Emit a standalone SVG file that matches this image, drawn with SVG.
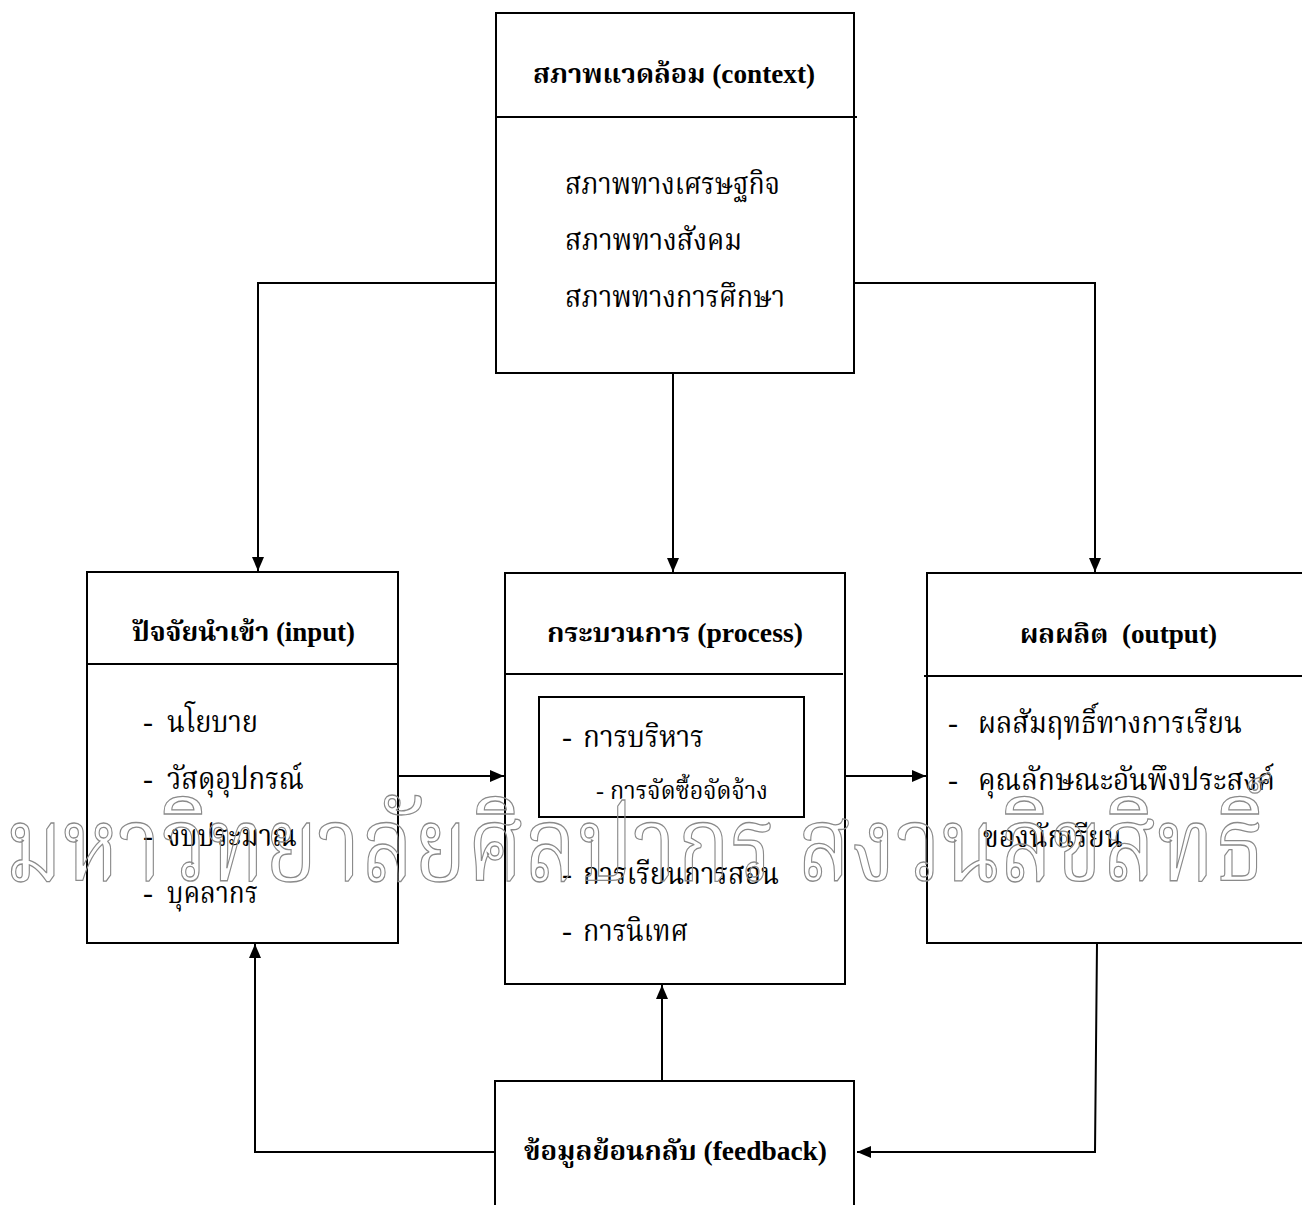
<svg xmlns="http://www.w3.org/2000/svg" width="1302" height="1205" viewBox="0 0 1302 1205">
  <style>
    .box { fill: #ffffff; stroke: #000000; stroke-width: 2; }
    .rule { stroke: #000000; stroke-width: 2; fill: none; }
    .wire { stroke: #000000; stroke-width: 2; fill: none; }
    .title { font-family: "Liberation Serif", "Norasi", "Noto Serif Thai", "Noto Sans Thai", serif; font-size: 27px; font-weight: bold; fill: #000000; }
    .item { font-family: "Liberation Serif", "Norasi", "Noto Serif Thai", "Noto Sans Thai", serif; font-size: 30px; fill: #000000; }
    .small { font-size: 24px; }
    .mark { font-family: "Norasi", "Noto Serif Thai", "Noto Sans Thai", "Liberation Serif", serif; font-size: 104px; fill: none; stroke: #8a8a8a; stroke-width: 1.3; }
  </style>
  <defs>
    <marker id="arrow" markerUnits="userSpaceOnUse" markerWidth="16" markerHeight="14" refX="14" refY="6" orient="auto">
      <path d="M0,0 L14,6 L0,12 Z" fill="#000000"/>
    </marker>
  </defs>

  <!-- connectors -->
  <g id="connectors">
    <path class="wire" d="M496,283 H258 V571" marker-end="url(#arrow)"/>
    <path class="wire" d="M854,283 H1095 V572" marker-end="url(#arrow)"/>
    <path class="wire" d="M673,368 V572" marker-end="url(#arrow)"/>
    <path class="wire" d="M398,776 H504" marker-end="url(#arrow)"/>
    <path class="wire" d="M845,776 H926" marker-end="url(#arrow)"/>
    <path class="wire" d="M1097,943 L1095,1152 H857" marker-end="url(#arrow)"/>
    <path class="wire" d="M495,1152 H255 V944" marker-end="url(#arrow)"/>
    <path class="wire" d="M662,1081 V985" marker-end="url(#arrow)"/>
  </g>

  <!-- context -->
  <g id="context">
    <rect class="box" x="496" y="13" width="358" height="360"/>
    <line class="rule" x1="496" y1="117" x2="857" y2="117"/>
    <text class="title" x="533" y="83" textLength="282" lengthAdjust="spacingAndGlyphs">สภาพแวดล้อม (context)</text>
    <text class="item" x="565" y="194" textLength="215" lengthAdjust="spacingAndGlyphs">สภาพทางเศรษฐกิจ</text>
    <text class="item" x="565" y="250" textLength="177" lengthAdjust="spacingAndGlyphs">สภาพทางสังคม</text>
    <text class="item" x="565" y="307" textLength="220" lengthAdjust="spacingAndGlyphs">สภาพทางการศึกษา</text>
  </g>

  <!-- input -->
  <g id="input">
    <rect class="box" x="87" y="572" width="311" height="371"/>
    <line class="rule" x1="87" y1="664" x2="398" y2="664"/>
    <text class="title" x="132" y="641" textLength="223" lengthAdjust="spacingAndGlyphs">ปัจจัยนำเข้า (input)</text>
    <text class="item" x="143" y="732">-</text>
    <text class="item" x="167" y="732" textLength="91" lengthAdjust="spacingAndGlyphs">นโยบาย</text>
    <text class="item" x="143" y="789">-</text>
    <text class="item" x="167" y="789" textLength="137" lengthAdjust="spacingAndGlyphs">วัสดุอุปกรณ์</text>
    <text class="item" x="143" y="846">-</text>
    <text class="item" x="167" y="846" textLength="130" lengthAdjust="spacingAndGlyphs">งบประมาณ</text>
    <text class="item" x="143" y="903">-</text>
    <text class="item" x="167" y="903" textLength="91" lengthAdjust="spacingAndGlyphs">บุคลากร</text>
  </g>

  <!-- process -->
  <g id="process">
    <rect class="box" x="505" y="573" width="340" height="411"/>
    <line class="rule" x1="505" y1="674" x2="843" y2="674"/>
    <text class="title" x="547" y="642" textLength="256" lengthAdjust="spacingAndGlyphs">กระบวนการ (process)</text>
    <rect class="box" x="539" y="697" width="265" height="120"/>
    <text class="item" x="562" y="747">-</text>
    <text class="item" x="583" y="747" textLength="121" lengthAdjust="spacingAndGlyphs">การบริหาร</text>
    <text class="item small" x="596" y="799">-</text>
    <text class="item small" x="610" y="799" textLength="158" lengthAdjust="spacingAndGlyphs">การจัดซื้อจัดจ้าง</text>
    <text class="item" x="562" y="884">-</text>
    <text class="item" x="583" y="884" textLength="196" lengthAdjust="spacingAndGlyphs">การเรียนการสอน</text>
    <text class="item" x="562" y="941">-</text>
    <text class="item" x="583" y="941" textLength="105" lengthAdjust="spacingAndGlyphs">การนิเทศ</text>
  </g>

  <!-- output -->
  <g id="output">
    <rect class="box" x="927" y="573" width="390" height="370"/>
    <line class="rule" x1="924" y1="676" x2="1302" y2="676"/>
    <text class="title" x="1020" y="643" textLength="197" lengthAdjust="spacingAndGlyphs" xml:space="preserve">ผลผลิต  (output)</text>
    <text class="item" x="948" y="733">-</text>
    <text class="item" x="978" y="733" textLength="264" lengthAdjust="spacingAndGlyphs">ผลสัมฤทธิ์ทางการเรียน</text>
    <text class="item" x="948" y="790">-</text>
    <text class="item" x="978" y="790" textLength="297" lengthAdjust="spacingAndGlyphs">คุณลักษณะอันพึงประสงค์</text>
    <text class="item" x="983" y="847" textLength="140" lengthAdjust="spacingAndGlyphs">ของนักเรียน</text>
  </g>

  <!-- feedback -->
  <g id="feedback">
    <rect class="box" x="495" y="1081" width="359" height="140"/>
    <text class="title" x="524" y="1160" textLength="303" lengthAdjust="spacingAndGlyphs">ข้อมูลย้อนกลับ (feedback)</text>
  </g>

  <!-- outlined overlay lettering -->
  <text class="mark" x="5" y="880" textLength="1260" lengthAdjust="spacingAndGlyphs">มหาวิทยาลัยศิลปากร สงวนลิขสิทธิ์</text>
</svg>
